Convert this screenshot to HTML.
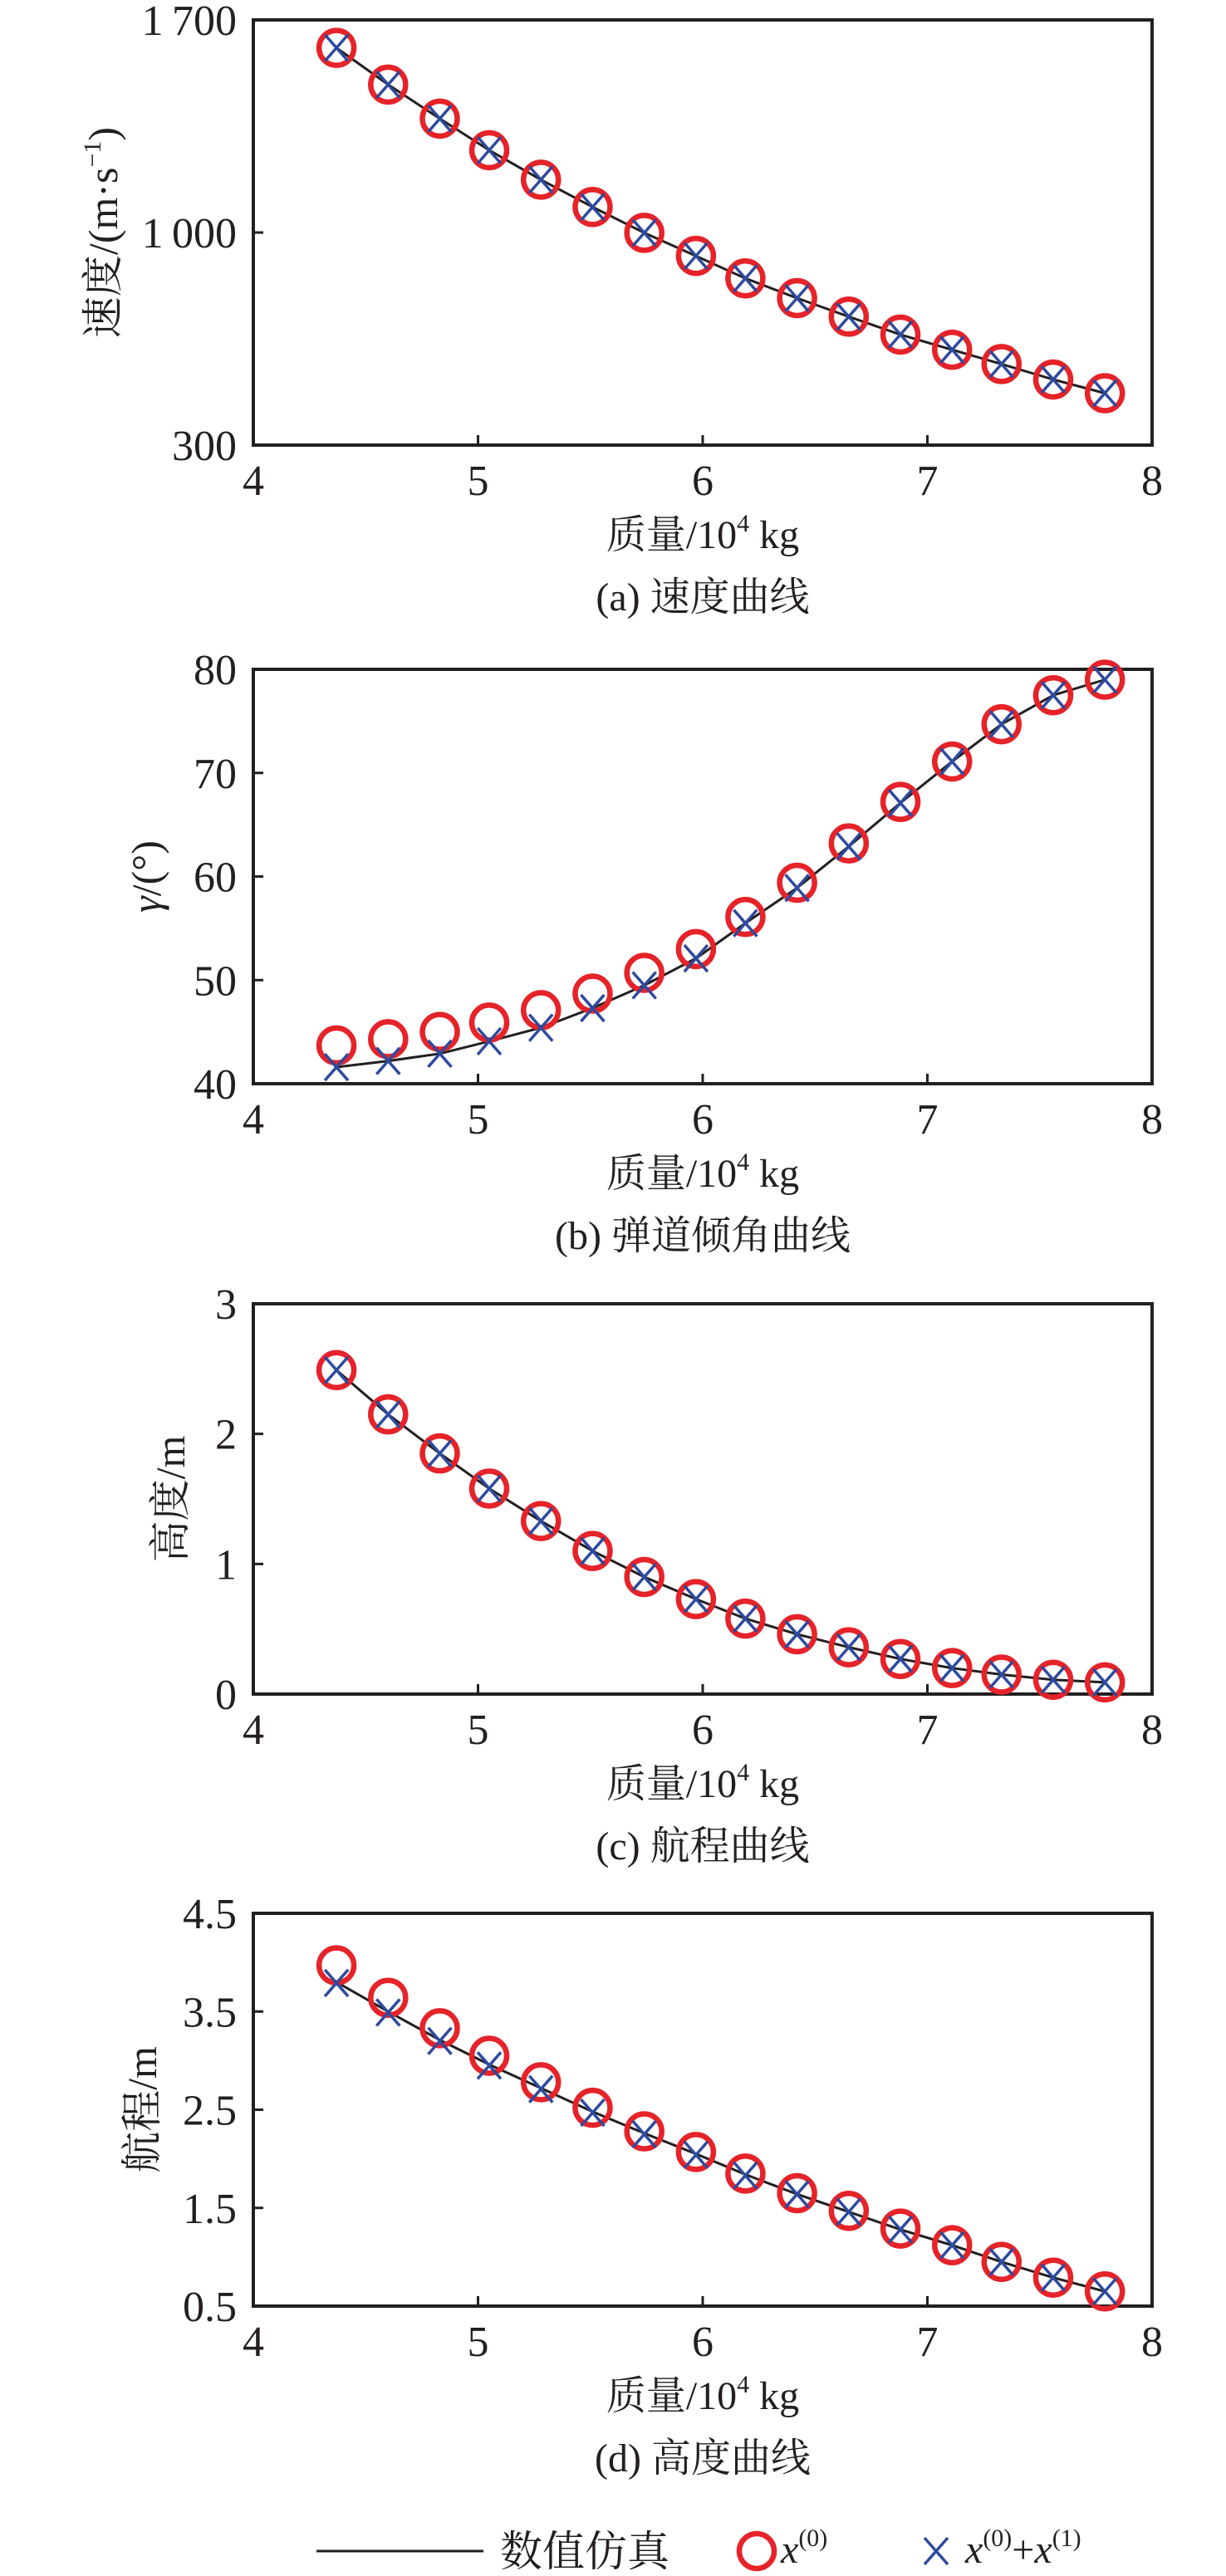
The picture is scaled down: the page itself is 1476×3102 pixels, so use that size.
<!DOCTYPE html>
<html><head><meta charset="utf-8">
<style>
html,body{margin:0;padding:0;background:#fff;}
svg{display:block;}
text{font-family:"Liberation Serif","Noto Serif CJK SC",serif;fill:#231f20;}
</style></head>
<body>
<svg id="fig" width="1476" height="3102" viewBox="0 0 1476 3102" xmlns="http://www.w3.org/2000/svg"></svg>
<script>
// ---- data ----
const massValues = [4.37,4.60,4.83,5.05,5.28,5.51,5.74,5.97,6.19,6.42,6.65,6.88,7.11,7.33,7.56,7.79];
const xTicks = [4,5,6,7,8];

const speedSim = [1608,1487,1375,1271,1174,1084,999,923,849,784,723,664,614,567,516,471];
const speedX0 = [1608,1487,1375,1271,1174,1084,999,923,849,784,723,664,614,567,516,471];
const speedX01 = [1608,1487,1375,1271,1174,1084,999,923,849,784,723,664,614,567,516,471];
const speedTicks = [300,1000,1700];
const speedTickLabels = ["300","1\u2009000","1\u2009700"];

const angleSim = [41.6,42.2,42.9,44.1,45.4,47.3,49.5,52.1,55.5,58.9,62.9,67.1,71.1,74.7,77.5,79.0];
const angleX0 = [43.7,44.3,45.0,45.9,47.1,48.7,50.7,53.0,56.1,59.4,63.2,67.2,71.1,74.7,77.5,79.0];
const angleX01 = [41.6,42.2,42.9,44.1,45.4,47.3,49.5,52.1,55.5,58.9,62.9,67.1,71.1,74.7,77.5,79.0];
const angleTicks = [40,50,60,70,80];
const angleTickLabels = ["40","50","60","70","80"];

const heightSim = [2.49,2.15,1.85,1.58,1.33,1.10,0.90,0.73,0.58,0.46,0.36,0.27,0.20,0.15,0.11,0.09];
const heightX0 = [2.49,2.15,1.85,1.58,1.33,1.10,0.90,0.73,0.58,0.46,0.36,0.27,0.20,0.15,0.11,0.09];
const heightX01 = [2.49,2.15,1.85,1.58,1.33,1.10,0.90,0.73,0.58,0.46,0.36,0.27,0.20,0.15,0.11,0.09];
const heightTicks = [0,1,2,3];
const heightTickLabels = ["0","1","2","3"];

const rangeSim = [3.80,3.50,3.21,2.96,2.72,2.48,2.26,2.05,1.84,1.64,1.46,1.28,1.12,0.95,0.79,0.65];
const rangeX0 = [3.97,3.64,3.33,3.05,2.78,2.52,2.28,2.07,1.85,1.65,1.47,1.29,1.12,0.95,0.79,0.65];
const rangeX01 = [3.79,3.49,3.20,2.95,2.71,2.47,2.25,2.04,1.83,1.64,1.46,1.28,1.12,0.95,0.79,0.65];
const rangeTicks = [0.5,1.5,2.5,3.5,4.5];
const rangeTickLabels = ["0.5","1.5","2.5","3.5","4.5"];

const NS = "http://www.w3.org/2000/svg";
const svg = document.getElementById("fig");
function mk(tag, attrs, parent){
  const e = document.createElementNS(NS, tag);
  for (const k in attrs) e.setAttribute(k, attrs[k]);
  (parent||svg).appendChild(e);
  return e;
}
const L = 305, R = 1387;
const CX = (L+R)/2;
const RED = "#e52329", BLUE = "#2e4a9e";

function drawCircle(g, cx, cy){
  const c = mk("ellipse",{cx:cx,cy:cy,rx:21,ry:21,fill:"none",stroke:RED,"stroke-width":6.5},g);
  
  
}
function drawCross(g, cx, cy){
  const p = mk("path",{d:`M${cx-14},${cy-16}L${cx+14},${cy+16}M${cx+14},${cy-16}L${cx-14},${cy+16}`,stroke:BLUE,"stroke-width":3.5,fill:"none"},g);
  
  
}

function panel(id, top, bottom, yMin, yMax, yTicks, yTickLabels, sim, x0, x1, yLabel, yLabelX, caption){
  const g = mk("g",{});
  
  
  const xs = v => L + (v-4)/(8-4)*(R-L);
  const ys = v => bottom - (v-yMin)/(yMax-yMin)*(bottom-top);
  const fr = mk("rect",{x:L,y:top,width:R-L,height:bottom-top,fill:"none",stroke:"#231f20","stroke-width":4},g);
  
  
  xTicks.forEach(t=>{
    const x = xs(t);
    if (t>4 && t<8){
      const tk = mk("line",{x1:x,y1:bottom,x2:x,y2:bottom-12,stroke:"#231f20","stroke-width":3},g);
      
      
    }
    const tl = mk("text",{x:x,y:bottom+60,"text-anchor":"middle","font-size":52},g);
    tl.textContent = String(t);
    
    
  });
  yTicks.forEach((t,i)=>{
    const y = ys(t);
    if (i>0 && i<yTicks.length-1){
      const tk = mk("line",{x1:L,y1:y,x2:L+12,y2:y,stroke:"#231f20","stroke-width":3},g);
      
      
    }
    const tl = mk("text",{x:L-20,y:y+18,"text-anchor":"end","font-size":52},g);
    tl.textContent = yTickLabels[i];
    
    
  });
  const d = sim.map((v,i)=>(i?"L":"M")+xs(massValues[i]).toFixed(1)+","+ys(v).toFixed(1)).join("");
  const ln = mk("path",{d:d,fill:"none",stroke:"#231f20","stroke-width":3,"stroke-linejoin":"round"},g);
  
  
  x0.forEach((v,i)=>drawCircle(g, xs(massValues[i]), ys(v)));
  x1.forEach((v,i)=>drawCross(g, xs(massValues[i]), ys(v)));
  const xt = mk("text",{x:CX,y:bottom+124,"text-anchor":"middle","font-size":48},g);
  xt.innerHTML = '质量/10<tspan font-size="30" dy="-20">4</tspan><tspan dy="20"> kg</tspan>';
  
  
  const cy = (top+bottom)/2;
  const yt = mk("text",{x:yLabelX,y:cy,"text-anchor":"middle","font-size":50,transform:`rotate(-90 ${yLabelX} ${cy})`,dy:"17"},g);
  yt.innerHTML = yLabel;
  
  
  const cp = mk("text",{x:CX,y:bottom+199,"text-anchor":"middle","font-size":48},g);
  cp.textContent = caption;
  
  
}

panel("panel-speed", 24, 536, 300, 1700, speedTicks, speedTickLabels, speedSim, speedX0, speedX01,
  '速度/(m·s<tspan font-size="30" dy="-20">−1</tspan><tspan dy="20">)</tspan>', 124, "(a) 速度曲线");
panel("panel-angle", 806, 1305, 40, 80, angleTicks, angleTickLabels, angleSim, angleX0, angleX01,
  '<tspan font-style="italic">γ</tspan>/(°)', 176, "(b) 弹道倾角曲线");
panel("panel-height", 1570, 2040, 0, 3, heightTicks, heightTickLabels, heightSim, heightX0, heightX01,
  '高度/m', 205, "(c) 航程曲线");
panel("panel-range", 2304, 2777, 0.5, 4.5, rangeTicks, rangeTickLabels, rangeSim, rangeX0, rangeX01,
  '航程/m', 171, "(d) 高度曲线");

const lg = mk("g",{});


const ll = mk("line",{x1:381,y1:3072,x2:582,y2:3072,stroke:"#231f20","stroke-width":3},lg);


const lt1 = mk("text",{x:602,y:3090,"font-size":51},lg);
lt1.textContent = "数值仿真";


drawCircle(lg, 911, 3072);
const lt2 = mk("text",{x:940,y:3086,"font-size":48},lg);
lt2.innerHTML = '<tspan font-style="italic">x</tspan><tspan font-size="30" dy="-20">(0)</tspan>';


drawCross(lg, 1127, 3072);
const lt3 = mk("text",{x:1162,y:3086,"font-size":48},lg);
lt3.innerHTML = '<tspan font-style="italic">x</tspan><tspan font-size="30" dy="-20">(0)</tspan><tspan dy="20">+</tspan><tspan font-style="italic">x</tspan><tspan font-size="30" dy="-20">(1)</tspan>';


</script>
</body></html>
